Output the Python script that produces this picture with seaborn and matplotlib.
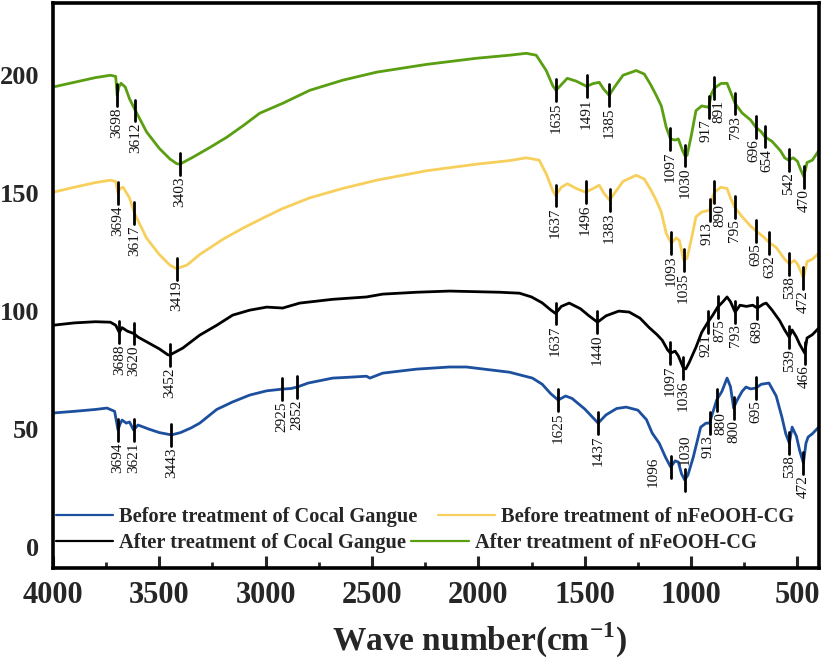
import numpy as np
import pandas as pd
import matplotlib
matplotlib.use('Agg')
import matplotlib.pyplot as plt
import seaborn as sns
from matplotlib.lines import Line2D

# ---- data (wave number, transmittance) ----
green_wn = [4000, 3900, 3800, 3730, 3705, 3698, 3690, 3680, 3660, 3640, 3612, 3560, 3500, 3450, 3418,
            3403, 3343, 3260, 3183, 3100, 3028, 2920, 2793, 2638, 2479, 2244, 2009, 1854, 1775, 1728,
            1681, 1650, 1635, 1610, 1582, 1540, 1491, 1460, 1432, 1410, 1385, 1360, 1320, 1258, 1220,
            1190, 1164, 1140, 1117, 1097, 1075, 1060, 1040, 1030, 1019, 1000, 977, 950, 917, 905, 891,
            860, 831, 815, 793, 760, 720, 696, 670, 654, 620, 580, 560, 542, 520, 500, 485, 470,
            455, 430, 400]
green_t = [195, 197, 199, 200, 199.5, 191.5, 195, 196.6, 195, 190, 185, 176, 169, 164.5, 162.5,
           162.3, 165.2, 169.5, 173.7, 179, 183.9, 188.1, 193.6, 197.9, 201.3, 204.6, 207.2, 208.5, 209.3, 208.5,
           202, 195.5, 193.6, 196, 198.7, 197.5, 195.3, 196.5, 197, 194, 191.5, 195, 200, 202, 200.5,
           196, 191.5, 187, 178, 173, 172.5, 173, 168, 166, 166, 174, 185, 187, 186.4, 192, 194.5,
           196.5, 196.6, 193, 188, 184, 181, 178, 176, 174, 172, 168, 165, 164, 165, 163.5, 160, 157,
           163, 164, 168]

yellow_wn = [4000, 3900, 3800, 3730, 3705, 3694, 3685, 3670, 3640, 3617, 3560, 3500, 3450, 3419,
             3370, 3310, 3200, 3100, 3000, 2920, 2793, 2638, 2479, 2244, 2009, 1854, 1775, 1714, 1680,
             1650, 1637, 1610, 1582, 1540, 1496, 1460, 1432, 1410, 1383, 1360, 1320, 1258, 1220, 1190,
             1164, 1140, 1117, 1093, 1070, 1055, 1035, 1019, 1000, 977, 950, 913, 900, 890,
             860, 831, 815, 795, 760, 720, 695, 660, 632, 600, 560, 538, 515, 500, 485, 472,
             455, 430, 400]
yellow_t = [150.4, 152.5, 154.5, 155.5, 155, 150, 152, 152.5, 148, 141.5, 131, 124, 119.5, 118,
            119.5, 124, 130.5, 135.5, 140, 143.5, 148, 152, 155.5, 159.5, 162.3, 163.8, 165, 164, 158,
            151, 149, 152.5, 154, 152, 150.4, 152, 153.4, 150, 147, 150, 155, 157.6, 156, 151.5,
            147, 142, 133, 128.8, 131, 130, 121.6, 122.4, 130, 140, 142, 142.8, 148, 150.4,
            152.5, 152, 148, 144, 140, 136, 134, 131.5, 129, 127, 122, 120, 121.5, 120, 117, 114,
            121, 122, 124.5]

black_wn = [4000, 3900, 3800, 3730, 3705, 3688, 3675, 3650, 3620, 3600, 3550, 3500, 3460, 3452,
            3390, 3310, 3230, 3155, 3075, 2995, 2920, 2840, 2685, 2526, 2450, 2290, 2136, 1900, 1807,
            1750, 1700, 1660, 1637, 1610, 1573, 1520, 1480, 1440, 1400, 1340, 1291, 1240, 1197, 1160,
            1136, 1110, 1097, 1075, 1060, 1036, 1025, 1010, 977, 950, 921, 900, 875, 850, 831, 815,
            800, 793, 770, 740, 710, 689, 660, 647, 620, 584, 560, 539, 525, 505, 490, 466, 455,
            430, 400]
black_t = [94, 95, 95.5, 95.3, 94, 91, 93, 91.5, 90.5, 89, 86.5, 84, 81.5, 81.3,
           84.3, 89.8, 94, 98.3, 100.4, 101.7, 101.3, 103.4, 105, 106, 107.2, 108, 108.5, 108, 107.6,
           106, 103.5, 100.5, 99, 102, 103.4, 101, 98, 95.3, 98, 100, 99.6, 97, 93, 90,
           87.7, 83.5, 82.2, 83, 81, 75.8, 75.5, 78, 84.7, 91, 95.3, 98, 101.7, 104, 106, 104,
           101, 99.6, 102.5, 102, 102.5, 101.3, 103, 103.4, 100.5, 96, 92, 89, 92, 89, 86, 82.2, 88.6,
           90, 92.8]

blue_wn = [4000, 3900, 3800, 3746, 3710, 3694, 3685, 3675, 3655, 3640, 3621, 3600, 3550, 3500, 3443,
           3400, 3350, 3310, 3230, 3155, 3075, 2995, 2925, 2880, 2852, 2800, 2685, 2600, 2526, 2510,
           2450, 2291, 2136, 2056, 1854, 1746, 1700, 1660, 1625, 1590, 1560, 1500, 1437, 1400, 1350,
           1305, 1250, 1210, 1183, 1150, 1120, 1096, 1075, 1060, 1045, 1030, 1015, 990, 955, 930,
           913, 900, 890, 880, 855, 831, 815, 800, 785, 760, 742, 720, 695, 670, 634, 600, 573,
           555, 538, 525, 505, 490, 472, 460, 450, 430, 400]
blue_t = [56.8, 57.5, 58.3, 58.9, 57.5, 49.6, 52, 53.8, 52.5, 53, 49.6, 51.7, 50, 48.5, 47.5,
          48.5, 50.5, 52.5, 58.3, 61.5, 64.4, 66.2, 66.9, 67.2, 67.8, 69.5, 71.6, 72, 72.4, 71.6,
          73.7, 75.4, 76.3, 76.3, 74.1, 71.6, 69, 65, 62.3, 64, 63, 58.5, 52.5, 56, 58.7,
          59.3, 58, 54, 48.3, 44, 38, 33.9, 36.5, 36, 31, 28.4, 30.5, 38, 50.8, 52.5,
          52.5, 56.5, 59.3, 62.3, 66, 71.6, 68, 58.9, 62, 66, 67.8, 67, 67.4, 69, 69.5, 64, 55,
          48, 44, 50.8, 47, 41, 35.6, 44, 46.6, 48, 50.8]

green_peaks = [3698, 3612, 3403, 1635, 1491, 1385, 1097, 1030, 917, 891, 793, 696, 654, 542, 470]
yellow_peaks = [3694, 3617, 3419, 1637, 1496, 1383, 1093, 1035, 913, 890, 795, 695, 632, 538, 472]
black_peaks = [3688, 3620, 3452, 1637, 1440, 1097, 1036, 921, 875, 793, 689, 539, 466]
blue_peaks = [3694, 3621, 3443, 2925, 2852, 1625, 1437, 1096, 1030, 913, 880, 800, 695, 538, 472]

labels = ['Before treatment of Cocal Gangue', 'After treatment of Cocal Gangue',
          'Before treatment of nFeOOH-CG', 'After treatment of nFeOOH-CG']
colors = ['#1c4f9e', '#000000', '#f6cf5c', '#5a9e12']

# label placement tweaks: (text x shift in cm-1, text top offset or 'above')
tweaks = {('blue', 1096): (80, 4.5), ('blue', 1030): (0, 'above'),
          ('green', 917): (14, None), ('green', 891): (-22, None),
          ('green', 696): (9, None), ('green', 654): (-8, None),
          ('yellow', 913): (10, None), ('yellow', 890): (-24, None),
          ('black', 921): (10, None), ('black', 875): (-10, None),
          ('blue', 913): (8, None), ('blue', 880): (-18, None)}

sns.set_theme(style='white')
plt.rcParams['font.family'] = ['Liberation Serif', 'DejaVu Serif']
plt.rcParams['mathtext.fontset'] = 'custom'
plt.rcParams['mathtext.rm'] = 'Liberation Serif'
plt.rcParams['mathtext.bf'] = 'Liberation Serif:bold'

fig = plt.figure(figsize=(8.27, 6.63), dpi=100)
ax = fig.add_axes([0.064, 0.143, 0.926, 0.852])

series = [('blue', blue_wn, blue_t, blue_peaks),
          ('black', black_wn, black_t, black_peaks),
          ('yellow', yellow_wn, yellow_t, yellow_peaks),
          ('green', green_wn, green_t, green_peaks)]

for i, (name, wn, t, peaks) in enumerate(series):
    df = pd.DataFrame({'wn': wn, 't': t})
    sns.lineplot(data=df, x='wn', y='t', color=colors[i], lw=2.0, ax=ax,
                 estimator=None, label=labels[i])
    wa = np.array(wn[::-1], dtype=float)
    ta = np.array(t[::-1], dtype=float)
    for p in peaks:
        yc = np.interp(p, wa, ta)
        ax.plot([p, p], [yc - 4.6, yc + 4.6], color='black', lw=2.0, zorder=5)
        dx, off = tweaks.get((name, p), (0, None))
        if off == 'above':
            ax.text(p + dx, yc + 6.5, str(p), rotation=90, ha='center', va='bottom',
                    fontsize=11, color='#111111')
        else:
            ytop = yc + off if off is not None else yc - 5.2
            ax.text(p + dx, ytop, str(p), rotation=90, ha='center', va='top',
                    fontsize=11, color='#111111')

ax.set_xlim(4000, 400)
ax.set_ylim(-9, 230.5)
ax.set_xticks([4000, 3500, 3000, 2500, 2000, 1500, 1000, 500])
ax.set_xticks([3750, 3250, 2750, 2250, 1750, 1250, 750], minor=True)
ax.set_yticks([0, 50, 100, 150, 200])
ax.tick_params(axis='x', which='major', direction='in', length=9, width=2.2,
               labelsize=22, pad=9, bottom=True)
ax.tick_params(axis='x', which='minor', direction='in', length=4, width=2.0, bottom=True)
ax.tick_params(axis='y', length=0, labelsize=19, pad=10)
for lab in ax.get_xticklabels() + ax.get_yticklabels():
    lab.set_fontweight('bold')
for sp in ax.spines.values():
    sp.set_linewidth(2.6)
    sp.set_color('black')

ax.set_ylabel('')
ax.set_xlabel(r'Wave number(cm$^{\mathbf{-1}}$)', fontsize=24, fontweight='bold')
ax.xaxis.set_label_coords(0.557, -0.093)

# legend: two rows, each its own legend
ax.get_legend().remove()

def h(c):
    return Line2D([], [], color=c, lw=1.6)

leg1 = ax.legend([h(colors[0]), h(colors[2])], [labels[0], labels[2]], ncol=2,
                 loc='center left', bbox_to_anchor=(0.004, 0.090), frameon=False,
                 prop={'weight': 'bold', 'size': 14.7}, handlelength=2.8,
                 handletextpad=0.3, columnspacing=1.0, borderpad=0, borderaxespad=0)
ax.add_artist(leg1)
ax.legend([h(colors[1]), h(colors[3])], [labels[1], labels[3]], ncol=2,
          loc='center left', bbox_to_anchor=(0.004, 0.044), frameon=False,
          prop={'weight': 'bold', 'size': 14.7}, handlelength=2.8,
          handletextpad=0.3, columnspacing=0.25, borderpad=0, borderaxespad=0)

fig.savefig('out.png', dpi=100)
